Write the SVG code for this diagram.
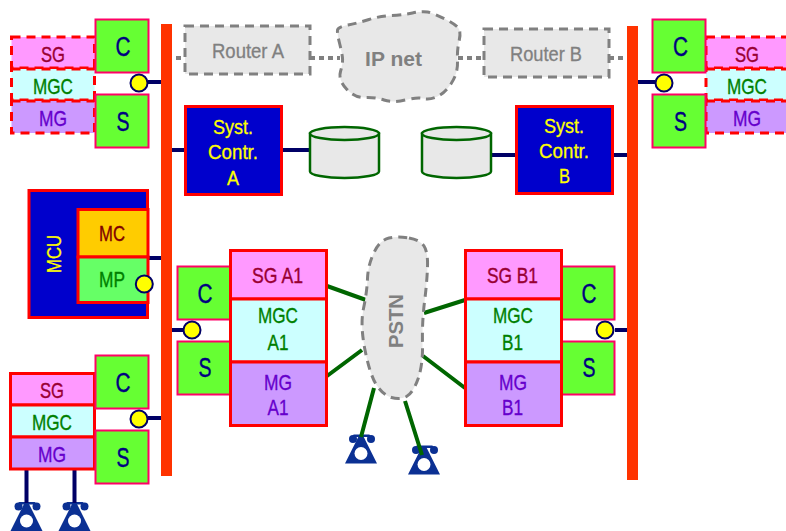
<svg xmlns="http://www.w3.org/2000/svg" width="786" height="531" viewBox="0 0 786 531">
<style>
text{font-family:"Liberation Sans",Arial,sans-serif;text-anchor:middle}
.t{font-size:22px;stroke-width:.35}
.cs{fill:#66ff33;stroke:#ff0066;stroke-width:2}
.cst{font-size:27px;fill:#000080;stroke:#000080;stroke-width:.4}
.sg{fill:#ff99ff}.mgc{fill:#ccffff}.mg{fill:#cc99ff}
.r{stroke:#ff0000;stroke-width:3}
.d{stroke:#ff0000;stroke-width:3;stroke-dasharray:9 6}
.sgt{fill:#990033;stroke:#990033}.mgct{fill:#008000;stroke:#008000}.mgt{fill:#6600cc;stroke:#6600cc}
.mct{fill:#800000;stroke:#800000}
.sys{fill:#0000cc;stroke:#ff0000;stroke-width:3}
.yt{fill:#ffff00;stroke:#ffff00;stroke-width:.3;font-size:21px}
.bar{fill:#ff3300}
.gb{fill:#e8e8e8;stroke:#808080;stroke-width:3;stroke-dasharray:9 6}
.gt{fill:#808080;stroke:#808080;stroke-width:.3;font-size:20px}
.gbt{fill:#808080;font-size:21px;font-weight:bold}
.dot{stroke:#808080;stroke-width:4;stroke-dasharray:5 4;fill:none}
.n{stroke:#000066;stroke-width:4;fill:none}
.g{stroke:#006600;stroke-width:4;fill:none}
.y{fill:#ffff00;stroke:#000066;stroke-width:2}
.cyl{fill:#e8e8e8;stroke:#006600;stroke-width:2.500}
</style>
<defs>
<g id="phone">
<rect x="-8" y="0" width="17" height="2.500" rx="1" fill="#0b3093"/>
<circle cx="-8" cy="4.500" r="4" fill="#0b3093"/>
<circle cx="10" cy="4.500" r="4" fill="#0b3093"/>
<polygon points="-2,1 2,1 16,29 -16,29" fill="#0b3093"/>
<circle cx="0" cy="19" r="6.500" fill="#ffffff"/>
</g>
<g id="cyl">
<path class="cyl" d="M0 6.500V44.500A34.500 6.500 0 0 0 69 44.500V6.500Z"/>
<ellipse class="cyl" cx="34.500" cy="6.500" rx="34.500" ry="6.500"/>
</g>
</defs>

<g id="phones">
<use href="#phone" x="26.500" y="502"/>
<use href="#phone" x="74.500" y="502"/>
<use href="#phone" x="361" y="434.500"/>
<use href="#phone" x="424" y="445.500"/>
</g>

<g id="connectors">
<path class="n" d="M148 82H161M172 150H185M282 150H310M148 258H161M172 330H185M148 418H161M26.500 469V503M74.500 469V503M491 155H516M613 155H627M615 330H627M638 82H655"/>
<path class="dot" d="M176 58H185M310 58H340M458 58H484M609 58H627"/>
<path class="g" d="M327 286L366 300M327 376L362 350M465 300L424 313M465 388L423 356M374 388L361 437M405 401L422 455"/>
</g>

<g id="bus-left"><rect class="bar" x="161" y="24" width="11" height="452"/></g>
<g id="bus-right"><rect class="bar" x="627" y="26" width="11" height="454"/></g>

<g id="gw-top-left">
<rect class="sg" x="11.500" y="37" width="83" height="31"/><rect fill="none" class="d" x="11.500" y="37" width="83" height="31"/>
<rect class="mgc" x="11.500" y="69" width="83" height="31"/><rect fill="none" class="d" x="11.500" y="69" width="83" height="31"/>
<rect class="mg" x="11.500" y="101" width="83" height="32"/><rect fill="none" class="d" x="11.500" y="101" width="83" height="32"/>
<text class="t sgt" x="53" y="62" textLength="24" lengthAdjust="spacingAndGlyphs">SG</text>
<text class="t mgct" x="53" y="94" textLength="40" lengthAdjust="spacingAndGlyphs">MGC</text>
<text class="t mgt" x="53" y="126" textLength="28" lengthAdjust="spacingAndGlyphs">MG</text>
<rect class="cs" x="95.500" y="19.500" width="53" height="53"/>
<rect class="cs" x="95.500" y="94.500" width="53" height="53"/>
<text class="cst" x="123" y="56" textLength="15" lengthAdjust="spacingAndGlyphs">C</text>
<text class="cst" x="123" y="131" textLength="13" lengthAdjust="spacingAndGlyphs">S</text>
<circle class="y" cx="139" cy="83" r="8.500"/>
</g>

<g id="gw-top-right">
<rect class="sg" x="706" y="37" width="83" height="31"/><rect fill="none" class="d" x="706" y="37" width="83" height="31"/>
<rect class="mgc" x="706" y="69" width="83" height="31"/><rect fill="none" class="d" x="706" y="69" width="83" height="31"/>
<rect class="mg" x="706" y="101" width="83" height="32"/><rect fill="none" class="d" x="706" y="101" width="83" height="32"/>
<text class="t sgt" x="747" y="62" textLength="24" lengthAdjust="spacingAndGlyphs">SG</text>
<text class="t mgct" x="747" y="94" textLength="40" lengthAdjust="spacingAndGlyphs">MGC</text>
<text class="t mgt" x="747" y="126" textLength="28" lengthAdjust="spacingAndGlyphs">MG</text>
<rect class="cs" x="652.500" y="19.500" width="53" height="53"/>
<rect class="cs" x="652.500" y="94.500" width="53" height="53"/>
<text class="cst" x="680.500" y="56" textLength="15" lengthAdjust="spacingAndGlyphs">C</text>
<text class="cst" x="680.500" y="131" textLength="13" lengthAdjust="spacingAndGlyphs">S</text>
<circle class="y" cx="664" cy="83" r="8.500"/>
</g>

<g id="router-a">
<rect class="gb" x="185" y="26" width="125" height="48"/>
<text class="gt" x="248" y="58" textLength="72" lengthAdjust="spacingAndGlyphs">Router A</text>
</g>
<g id="router-b">
<rect class="gb" x="484" y="29" width="125" height="48"/>
<text class="gt" x="546" y="61" textLength="72" lengthAdjust="spacingAndGlyphs">Router B</text>
</g>
<g id="ip-net">
<path class="gb" d="M348 25Q358 23 369 19.500Q380 16 391.500 15.500Q403 15 412.500 13Q422 11 427.500 12Q433 13 445 19Q457 25 459 29Q461 33 459 41.500Q457 50 457.500 61.500Q458 73 451.500 83Q445 93 437.500 96.500Q430 100 423.500 98.500Q417 97 405 100Q393 103 384 100Q375 97 365 97.500Q355 98 346.500 89Q338 80 340.500 71.500Q343 63 342.500 58Q342 53 339.500 43Q337 33 337.500 30Q338 27 348 25Z"/>
<text class="gbt" x="393.500" y="66">IP net</text>
</g>

<g id="syst-a">
<rect class="sys" x="185.500" y="106.500" width="96" height="88"/>
<text class="yt" x="233" y="134" textLength="40" lengthAdjust="spacingAndGlyphs">Syst.</text>
<text class="yt" x="233" y="159" textLength="50" lengthAdjust="spacingAndGlyphs">Contr.</text>
<text class="yt" x="233" y="185" textLength="12" lengthAdjust="spacingAndGlyphs">A</text>
</g>
<g id="syst-b">
<rect class="sys" x="516.500" y="106.500" width="96" height="87"/>
<text class="yt" x="564" y="133" textLength="40" lengthAdjust="spacingAndGlyphs">Syst.</text>
<text class="yt" x="564" y="158" textLength="50" lengthAdjust="spacingAndGlyphs">Contr.</text>
<text class="yt" x="564.500" y="183" font-size="21" textLength="11" lengthAdjust="spacingAndGlyphs">B</text>
</g>
<g id="db-a"><use href="#cyl" x="310" y="127"/></g>
<g id="db-b"><use href="#cyl" x="422" y="127"/></g>

<g id="mcu">
<rect class="sys" x="29" y="190.500" width="118.500" height="127"/>
<text class="yt" transform="translate(61 254) rotate(-90)" textLength="38" lengthAdjust="spacingAndGlyphs">MCU</text>
<rect x="78" y="209.500" width="70" height="47.500" fill="#ffcc00" class="r"/>
<rect x="78" y="257" width="70" height="45.500" fill="#66ff66" class="r"/>
<text class="t mct" x="112" y="241" textLength="26" lengthAdjust="spacingAndGlyphs">MC</text>
<text class="t mgct" x="112" y="287" textLength="26" lengthAdjust="spacingAndGlyphs">MP</text>
<circle class="y" cx="144.300" cy="284" r="8.500"/>
</g>

<g id="pstn">
<path class="gb" d="M409 238Q420 240 424 246Q428 252 427.500 267Q427 282 424.500 302Q422 322 422.500 343.500Q423 365 418 379Q413 393 406.500 396.500Q400 400 391.500 397.500Q383 395 376.500 385Q370 375 365 350Q360 325 363.500 308.500Q367 292 367.500 278.500Q368 265 374 252.500Q380 240 389 238Q398 236 409 238Z"/>
<text class="gbt" transform="translate(403 321) rotate(-90)" textLength="54" lengthAdjust="spacingAndGlyphs">PSTN</text>
</g>

<g id="gw-a1">
<rect class="cs" x="177.500" y="266.500" width="53" height="53"/>
<rect class="cs" x="177.500" y="341.500" width="53" height="53"/>
<text class="cst" x="205" y="303" textLength="15" lengthAdjust="spacingAndGlyphs">C</text>
<text class="cst" x="205" y="377" textLength="13" lengthAdjust="spacingAndGlyphs">S</text>
<rect class="sg r" x="230.500" y="250.500" width="96" height="48.500"/>
<rect class="mgc r" x="230.500" y="299" width="96" height="63"/>
<rect class="mg r" x="230.500" y="362" width="96" height="63.500"/>
<text class="t sgt" x="277.500" y="283" textLength="51" lengthAdjust="spacingAndGlyphs">SG A1</text>
<text class="t mgct" x="278" y="323" textLength="40" lengthAdjust="spacingAndGlyphs">MGC</text>
<text class="t mgct" x="278" y="350" textLength="21" lengthAdjust="spacingAndGlyphs">A1</text>
<text class="t mgt" x="278" y="390" textLength="28" lengthAdjust="spacingAndGlyphs">MG</text>
<text class="t mgt" x="278" y="415" textLength="21" lengthAdjust="spacingAndGlyphs">A1</text>
<circle class="y" cx="192" cy="330" r="8.500"/>
</g>

<g id="gw-b1">
<rect class="cs" x="561.500" y="266.500" width="53" height="53"/>
<rect class="cs" x="561.500" y="341.500" width="53" height="53"/>
<text class="cst" x="589" y="303" textLength="15" lengthAdjust="spacingAndGlyphs">C</text>
<text class="cst" x="589" y="377" textLength="13" lengthAdjust="spacingAndGlyphs">S</text>
<rect class="sg r" x="465.500" y="250.500" width="96" height="48.500"/>
<rect class="mgc r" x="465.500" y="299" width="96" height="63"/>
<rect class="mg r" x="465.500" y="362" width="96" height="63.500"/>
<text class="t sgt" x="512.500" y="283" textLength="51" lengthAdjust="spacingAndGlyphs">SG B1</text>
<text class="t mgct" x="513" y="323" textLength="40" lengthAdjust="spacingAndGlyphs">MGC</text>
<text class="t mgct" x="512.500" y="350" textLength="21" lengthAdjust="spacingAndGlyphs">B1</text>
<text class="t mgt" x="513" y="390" textLength="28" lengthAdjust="spacingAndGlyphs">MG</text>
<text class="t mgt" x="512.500" y="415" textLength="21" lengthAdjust="spacingAndGlyphs">B1</text>
<circle class="y" cx="605" cy="330" r="8.500"/>
</g>

<g id="gw-bottom-left">
<rect class="sg r" x="10.500" y="373.500" width="84" height="31.500"/>
<rect class="mgc r" x="10.500" y="405" width="84" height="32"/>
<rect class="mg r" x="10.500" y="437" width="84" height="32"/>
<text class="t sgt" x="52" y="398" textLength="24" lengthAdjust="spacingAndGlyphs">SG</text>
<text class="t mgct" x="52" y="430" textLength="40" lengthAdjust="spacingAndGlyphs">MGC</text>
<text class="t mgt" x="52" y="462" textLength="28" lengthAdjust="spacingAndGlyphs">MG</text>
<rect class="cs" x="95.500" y="355.500" width="53" height="53"/>
<rect class="cs" x="95.500" y="430.500" width="53" height="53"/>
<text class="cst" x="123" y="392" textLength="15" lengthAdjust="spacingAndGlyphs">C</text>
<text class="cst" x="123" y="467" textLength="13" lengthAdjust="spacingAndGlyphs">S</text>
<circle class="y" cx="139" cy="419" r="8.500"/>
</g>
</svg>
